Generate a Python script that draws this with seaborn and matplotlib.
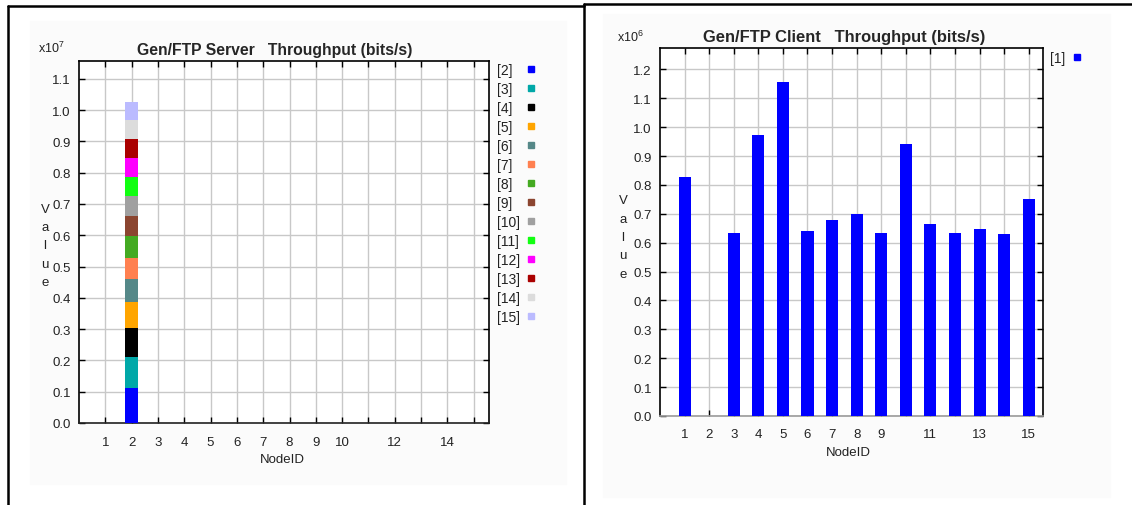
import matplotlib
matplotlib.use("Agg")
import matplotlib.pyplot as plt
import seaborn as sns
import pandas as pd
import numpy as np
from matplotlib.ticker import MultipleLocator, FuncFormatter, FixedLocator
from matplotlib.lines import Line2D
from matplotlib.patches import Rectangle

# ---------------- data ----------------
server_node = 2
server_streams = ["[2]", "[3]", "[4]", "[5]", "[6]", "[7]", "[8]",
                  "[9]", "[10]", "[11]", "[12]", "[13]", "[14]", "[15]"]
server_values = [1.12e6, 0.99e6, 0.93e6, 0.83e6, 0.73e6, 0.67e6, 0.70e6,
                 0.64e6, 0.63e6, 0.63e6, 0.60e6, 0.60e6, 0.61e6, 0.58e6]
server_colors = ["#0000ff", "#00a8a8", "#000000", "#ffa500", "#558888",
                 "#ff8050", "#44aa22", "#8b4530", "#a0a0a0", "#11ff11",
                 "#ff00ff", "#aa0000", "#dcdcdc", "#bbbbff"]
server_xticklabels = ["1", "2", "3", "4", "5", "6", "7", "8", "9", "10",
                      "", "12", "", "14", ""]

client_nodes = list(range(1, 16))
client_values = [0.828e6, 0.0, 0.635e6, 0.972e6, 1.155e6, 0.641e6, 0.678e6,
                 0.701e6, 0.635e6, 0.941e6, 0.663e6, 0.634e6, 0.649e6,
                 0.629e6, 0.751e6]
client_streams = ["[1]"]
client_color = "#0000ff"
client_xticklabels = ["1", "2", "3", "4", "5", "6", "7", "8", "9", "",
                      "11", "", "13", "", "15"]

server_title = "Gen/FTP Server   Throughput (bits/s)"
client_title = "Gen/FTP Client   Throughput (bits/s)"

# ---------------- style ----------------
sns.set_theme(style="white")
plt.rcParams["font.family"] = ["Liberation Sans", "DejaVu Sans"]
plt.rcParams["mathtext.fontset"] = "custom"
plt.rcParams["mathtext.rm"] = "Liberation Sans"
plt.rcParams["mathtext.it"] = "Liberation Sans"
plt.rcParams["mathtext.bf"] = "Liberation Sans:bold"

W, H = 1132, 506
fig = plt.figure(figsize=(W / 100, H / 100), dpi=100)
fig.patch.set_facecolor("white")


def fx(px):
    return px / W


def fy(py):
    return 1 - py / H


def axes_rect(l, t, r, b):
    return [fx(l), fy(b), fx(r) - fx(l), fy(t) - fy(b)]


# faint panel backgrounds
fig.add_artist(Rectangle((fx(30), fy(485)), fx(566) - fx(30), fy(22) - fy(485),
                         transform=fig.transFigure, color="#fbfbfb", zorder=0))
fig.add_artist(Rectangle((fx(603), fy(498)), fx(1110) - fx(603), fy(15) - fy(498),
                         transform=fig.transFigure, color="#fbfbfb", zorder=0))

# panel frame lines
for (x0, y0, x1, y1) in [(8, 7, 584, 7), (8, 7, 8, 506), (584, 5, 584, 506),
                         (584, 5, 1132, 5)]:
    fig.add_artist(Line2D([fx(x0), fx(x1)], [fy(y0), fy(y1)],
                          transform=fig.transFigure, color="black", lw=1.8))

TICK_FS = 9.5
GRID_C = "#c8c8c8"


def style_axes(ax, scale, ymax, xticklabels, bottom_color):
    ax.set_facecolor("white")
    ax.set_xlim(0, 15.58)
    ax.set_ylim(0, ymax)
    ax.xaxis.set_major_locator(FixedLocator(list(range(1, 16))))
    ax.set_xticklabels(xticklabels)
    ax.yaxis.set_major_locator(MultipleLocator(0.1 * scale))
    ax.yaxis.set_major_formatter(FuncFormatter(lambda v, p: f"{v / scale:.1f}"))
    ax.grid(True, color=GRID_C, lw=1.0)
    ax.set_axisbelow(True)
    ax.tick_params(direction="in", length=4, width=1, top=True, right=True,
                   bottom=True, left=True, labelsize=TICK_FS, colors="black",
                   labelcolor="#222222", pad=6)
    ax.tick_params(axis="x", pad=9)
    for s in ["left", "right", "top"]:
        ax.spines[s].set_color("black")
        ax.spines[s].set_linewidth(1.2)
        ax.spines[s].set_visible(True)
    ax.spines["bottom"].set_color(bottom_color)
    ax.spines["bottom"].set_linewidth(1.2)
    ax.spines["bottom"].set_visible(True)
    ax.set_xlabel("")
    ax.set_ylabel("")


def split_legend(ax, labels, colors, text_anchor, marker_anchor, spacing):
    """Left-aligned labels with a column of square markers to their right."""
    blank = [Line2D([], [], linestyle="", marker="") for _ in labels]
    leg1 = ax.legend(blank, labels, loc="upper left", bbox_to_anchor=text_anchor,
                     frameon=False, handlelength=0, handletextpad=0,
                     labelspacing=spacing, borderaxespad=0, borderpad=0,
                     fontsize=10, labelcolor="#222222")
    ax.add_artist(leg1)
    marks = [Line2D([], [], marker="s", linestyle="", color=c, markersize=5)
             for c in colors]
    ax.legend(marks, [" "] * len(labels), loc="upper left",
              bbox_to_anchor=marker_anchor, frameon=False, handlelength=0.6,
              handletextpad=0, labelspacing=spacing, borderaxespad=0,
              borderpad=0, fontsize=10)


# ---------------- left: server ----------------
axL = fig.add_axes(axes_rect(79, 62, 489, 424))
bottoms = np.concatenate([[0], np.cumsum(server_values)[:-1]])
for val, b, c in zip(server_values, bottoms, server_colors):
    sns.barplot(x=[server_node], y=[val], native_scale=True, width=0.48,
                color=c, saturation=1, errorbar=None, bottom=b,
                linewidth=0, ax=axL, zorder=3)
style_axes(axL, 1e7, 1.157e7, server_xticklabels, "#222222")
split_legend(axL, server_streams, server_colors,
             text_anchor=((497 - 79) / 410, (424 - 64) / 362),
             marker_anchor=((527 - 79) / 410, (424 - 64) / 362),
             spacing=0.36)
axL.text(0.477, 1.0 + 12 / 362, server_title, transform=axL.transAxes,
         ha="center", va="center", fontsize=11.3, fontweight="bold")
fig.text(fx(38), fy(48), r"x10$^{7}$", ha="left", va="center", fontsize=9,
         color="#222222")
fig.text(fx(45), fy(246.5), "V\na\nl\nu\ne", ha="center", va="center",
         fontsize=9.5, linespacing=1.68, color="#222222")
fig.text(fx(282), fy(460), "NodeID", ha="center", va="center", fontsize=9.5,
         color="#222222")

# ---------------- right: client ----------------
axR = fig.add_axes(axes_rect(660, 49, 1043, 417))
sns.barplot(x=client_nodes, y=client_values, native_scale=True, width=0.49,
            color=client_color, saturation=1, errorbar=None, linewidth=0,
            ax=axR, zorder=3)
style_axes(axR, 1e6, 1.274e6, client_xticklabels, "#9a9a9a")
split_legend(axR, client_streams, [client_color],
             text_anchor=((1050 - 660) / 383, (417 - 52) / 368),
             marker_anchor=((1073 - 660) / 383, (417 - 52) / 368),
             spacing=0.36)
axR.text(0.482, 1.0 + 12 / 368, client_title, transform=axR.transAxes,
         ha="center", va="center", fontsize=11.9, fontweight="bold")
fig.text(fx(617), fy(37), r"x10$^{6}$", ha="left", va="center", fontsize=9,
         color="#222222")
fig.text(fx(623), fy(238), "V\na\nl\nu\ne", ha="center", va="center",
         fontsize=9.5, linespacing=1.7, color="#222222")
fig.text(fx(848), fy(453), "NodeID", ha="center", va="center", fontsize=9.5,
         color="#222222")

fig.savefig("out.png", dpi=100)
